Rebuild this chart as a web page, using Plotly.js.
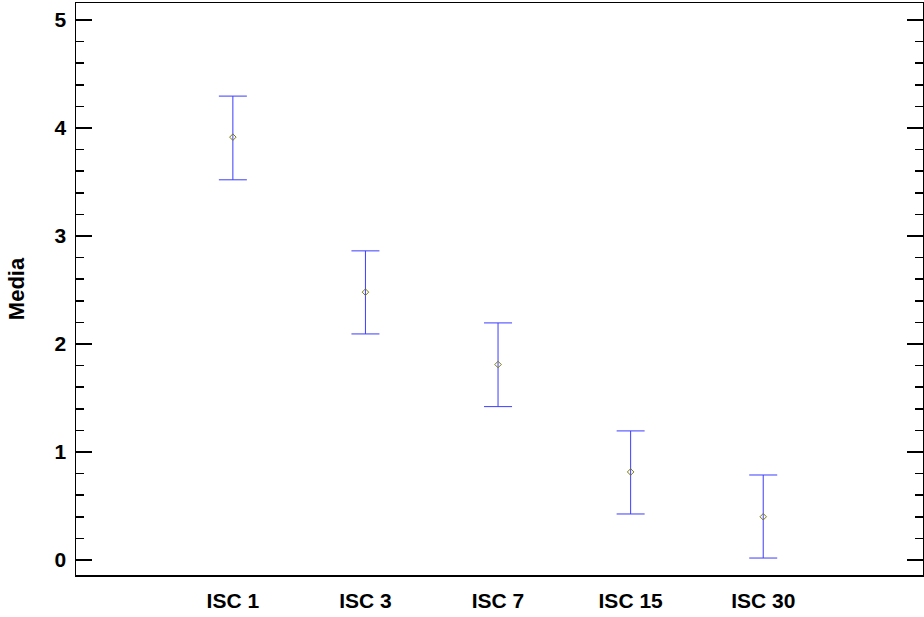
<!DOCTYPE html>
<html>
<head>
<meta charset="utf-8">
<script src="https://cdn.plot.ly/plotly-3.0.1.min.js"></script>
<style>html,body{margin:0;padding:0;background:#fff;}#chart{width:924px;height:617px;}</style>
</head>
<body>
<div id="chart"></div>
<script>
const categories = ["ISC 1", "ISC 3", "ISC 7", "ISC 15", "ISC 30"];
const positions = [1, 2, 3, 4, 5];
const means = [3.915, 2.48, 1.81, 0.815, 0.40];
const upper = [4.295, 2.862, 2.195, 1.195, 0.787];
const lower = [3.52, 2.093, 1.42, 0.426, 0.018];
const yTickVals = [0, 1, 2, 3, 4, 5];

const errPlus = upper.map((u, i) => u - means[i]);
const errMinus = lower.map((l, i) => means[i] - l);

const trace = {
  type: 'scatter',
  mode: 'markers',
  x: positions,
  y: means,
  marker: {symbol: 'diamond-open', size: 5, color: '#7a7a10', line: {width: 1, color: '#7a7a10'}},
  error_y: {type: 'data', symmetric: false, array: errPlus, arrayminus: errMinus,
            color: 'rgb(60,60,255)', thickness: 1, width: 14},
  hoverinfo: 'skip'
};

const font = {family: 'Arial, "Liberation Sans", sans-serif', size: 21, color: '#000'};
const titleFont = {family: 'Arial, "Liberation Sans", sans-serif', size: 22, color: '#000'};

const layout = {
  width: 924, height: 617,
  margin: {l: 76, r: 1, t: 3, b: 42},
  paper_bgcolor: '#fff', plot_bgcolor: '#fff',
  showlegend: false,
  font: font,
  xaxis: {
    range: [-0.183, 6.205],
    tickvals: positions,
    ticktext: categories.map(c => '<b>' + c + '</b>'),
    ticks: '', showgrid: false, zeroline: false,
    showline: true, linecolor: '#000', linewidth: 1.5, mirror: true,
    tickfont: font, ticklabelstandoff: 6
  },
  yaxis: {
    range: [-0.139, 5.157],
    tickvals: yTickVals,
    ticktext: yTickVals.map(v => '<b>' + v + '</b>'),
    ticks: 'inside', ticklen: 16, tickwidth: 1.5, tickcolor: '#000',
    minor: {dtick: 0.2, ticks: 'inside', ticklen: 8, tickwidth: 1.5, tickcolor: '#000'},
    showgrid: false, zeroline: false,
    showline: true, linecolor: '#000', linewidth: 1.5, mirror: 'ticks',
    tickfont: font, ticklabelstandoff: 4,
    title: {text: '<b>Media</b>', font: titleFont, standoff: 24}
  }
};

Plotly.newPlot('chart', [trace], layout, {displayModeBar: false, staticPlot: true});
</script>
</body>
</html>
